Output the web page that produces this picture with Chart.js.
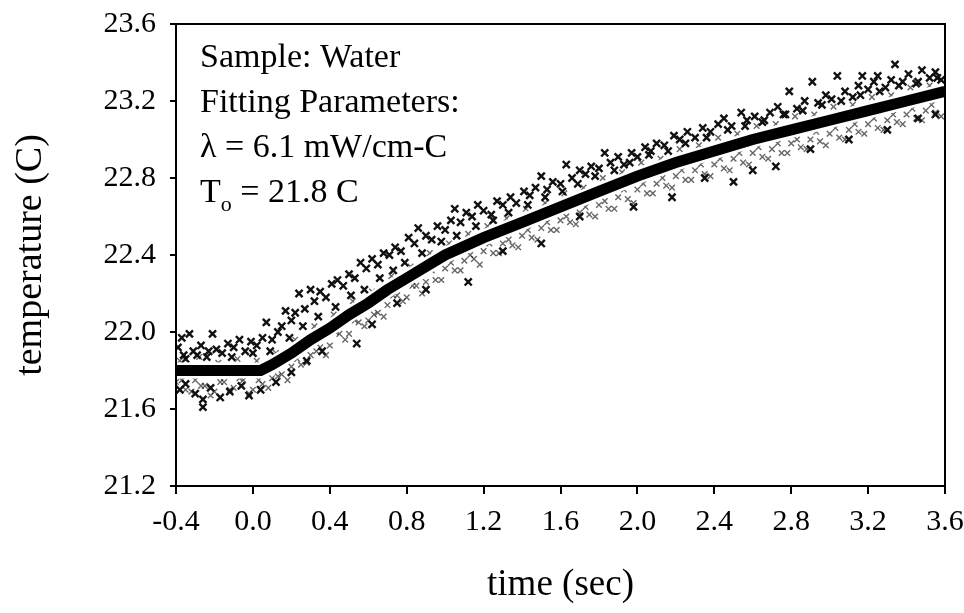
<!DOCTYPE html>
<html lang="en">
<head>
    <meta charset="UTF-8">
    <title>Sample: Water</title>
    <script src="https://cdn.jsdelivr.net/npm/chart.js"></script>
    <style>
        body { margin: 0; background: #fff; }
    </style>
</head>
<body>
    <canvas id="chart" width="964" height="613"></canvas>

    <script>
        // axis ticks
        const timeTicks = [-0.4, 0.0, 0.4, 0.8, 1.2, 1.6, 2.0, 2.4, 2.8, 3.2, 3.6];
        const tempTicks = [21.2, 21.6, 22.0, 22.4, 22.8, 23.2, 23.6];

        // fitted curve
        const fitTime = [-0.4, 0.04, 0.1, 0.2, 0.3, 0.4, 0.5, 0.6, 0.7, 0.8, 0.9, 1.0, 1.2, 1.4, 1.6, 1.8, 2.0, 2.2, 2.4, 2.6, 2.8, 3.0, 3.2, 3.4, 3.6];
        const fitTemp = [21.80, 21.80, 21.83, 21.89, 21.96, 22.02, 22.09, 22.15, 22.22, 22.28, 22.34, 22.40, 22.49, 22.57, 22.65, 22.73, 22.81, 22.88, 22.94, 23.00, 23.05, 23.10, 23.15, 23.20, 23.25];

        // measured points, dark crosses [time, temp]
        const darkPoints = [
            [-0.39, 21.92], [-0.37, 21.97], [-0.35, 21.86], [-0.33, 21.99], [-0.31, 21.90], [-0.29, 21.88],
            [-0.27, 21.93], [-0.24, 21.87], [-0.21, 21.99], [-0.19, 21.91], [-0.16, 21.89], [-0.13, 21.94],
            [-0.10, 21.92], [-0.07, 21.96], [-0.04, 21.90], [-0.01, 21.95], [0.02, 21.93], [0.05, 21.97],
            [0.07, 22.05], [0.10, 21.96], [0.13, 22.00], [0.15, 22.03], [0.17, 22.11], [0.20, 22.06],
            [0.22, 22.10], [0.24, 22.20], [0.27, 22.12], [0.30, 22.22], [0.32, 22.16], [0.35, 22.21],
            [0.38, 22.18], [0.41, 22.25], [0.44, 22.27], [0.47, 22.24], [0.50, 22.30], [0.53, 22.28],
            [0.56, 22.36], [0.59, 22.33], [0.62, 22.38], [0.65, 22.35], [0.68, 22.41], [0.71, 22.40],
            [0.74, 22.44], [0.77, 22.42], [0.81, 22.49], [0.84, 22.46], [0.86, 22.54], [0.90, 22.50],
            [0.93, 22.48], [0.96, 22.55], [1.00, 22.53], [1.03, 22.58], [1.05, 22.64], [1.08, 22.57],
            [1.11, 22.62], [1.14, 22.60], [1.17, 22.66], [1.20, 22.63], [1.24, 22.61], [1.27, 22.68],
            [1.30, 22.66], [1.34, 22.70], [1.37, 22.67], [1.41, 22.73], [1.44, 22.71], [1.47, 22.75],
            [1.50, 22.81], [1.53, 22.74], [1.56, 22.78], [1.60, 22.77], [1.63, 22.87], [1.66, 22.80],
            [1.70, 22.84], [1.73, 22.82], [1.76, 22.86], [1.80, 22.85], [1.83, 22.93], [1.86, 22.88],
            [1.90, 22.91], [1.93, 22.87], [1.97, 22.93], [2.00, 22.91], [2.04, 22.96], [2.07, 22.94],
            [2.10, 22.98], [2.14, 22.97], [2.19, 23.02], [2.22, 23.00], [2.26, 23.04], [2.30, 23.01],
            [2.34, 23.06], [2.38, 23.04], [2.42, 23.08], [2.45, 23.11], [2.49, 23.07], [2.54, 23.14],
            [2.57, 23.10], [2.61, 23.12], [2.65, 23.09], [2.69, 23.14], [2.73, 23.17], [2.76, 23.13],
            [2.79, 23.25], [2.83, 23.16], [2.87, 23.20], [2.91, 23.30], [2.94, 23.19], [2.98, 23.23],
            [3.01, 23.21], [3.04, 23.33], [3.08, 23.25], [3.12, 23.22], [3.15, 23.28], [3.17, 23.33],
            [3.20, 23.26], [3.23, 23.30], [3.25, 23.33], [3.29, 23.27], [3.32, 23.31], [3.34, 23.39],
            [3.38, 23.30], [3.41, 23.34], [3.45, 23.29], [3.48, 23.36], [3.52, 23.32], [3.55, 23.35],
            [3.58, 23.31],
            // below the curve
            [-0.38, 21.70], [-0.35, 21.73], [-0.30, 21.68], [-0.26, 21.65], [-0.26, 21.61], [-0.22, 21.71],
            [-0.17, 21.66], [-0.12, 21.69], [-0.06, 21.72], [-0.02, 21.67], [0.04, 21.70], [0.12, 21.74],
            [0.20, 21.79], [0.28, 21.85], [0.36, 21.90], [0.54, 21.94], [0.62, 22.04], [0.75, 22.15],
            [0.90, 22.22], [1.12, 22.26], [1.30, 22.42], [1.50, 22.46], [1.70, 22.60], [1.98, 22.65],
            [2.18, 22.70], [2.35, 22.80], [2.50, 22.78], [2.60, 22.84], [2.72, 22.86], [2.90, 22.95],
            [3.10, 23.00], [3.30, 23.05], [3.46, 23.11], [3.55, 23.13]
        ];

        // more dark crosses packed just above the curve
        const darkNearPoints = [
            [-0.36, 21.88], [-0.23, 21.90], [-0.11, 21.87], [0.00, 21.89], [0.09, 21.90], [0.19, 21.97],
            [0.26, 22.03], [0.34, 22.08], [0.43, 22.13], [0.51, 22.19], [0.58, 22.22], [0.66, 22.28],
            [0.73, 22.32], [0.79, 22.36], [0.88, 22.41], [0.98, 22.47], [1.06, 22.50], [1.16, 22.55],
            [1.25, 22.58], [1.33, 22.62], [1.43, 22.66], [1.52, 22.70], [1.61, 22.73], [1.69, 22.77],
            [1.78, 22.81], [1.88, 22.84], [1.96, 22.88], [2.06, 22.92], [2.16, 22.94], [2.25, 22.98],
            [2.36, 23.01], [2.47, 23.05], [2.56, 23.07], [2.66, 23.10], [2.77, 23.13], [2.86, 23.15],
            [2.96, 23.18], [3.06, 23.20], [3.16, 23.23], [3.26, 23.25], [3.36, 23.28], [3.46, 23.30],
            [3.56, 23.32]
        ];

        // measured points, light speckle close to the curve [time, temp]
        const lightPoints = [
            [-0.40, 21.74], [-0.35, 21.70], [-0.30, 21.75], [-0.25, 21.72], [-0.20, 21.69], [-0.15, 21.74],
            [-0.10, 21.71], [-0.05, 21.75], [0.00, 21.70], [0.05, 21.73], [0.10, 21.76], [0.15, 21.78],
            [0.20, 21.82], [0.25, 21.83], [0.30, 21.88], [0.35, 21.92], [0.40, 21.93], [0.45, 21.99],
            [0.50, 21.99], [0.55, 22.05], [0.60, 22.06], [0.65, 22.10], [0.70, 22.14], [0.75, 22.19],
            [0.80, 22.18], [0.85, 22.24], [0.90, 22.26], [0.95, 22.27], [1.00, 22.33], [1.05, 22.32],
            [1.10, 22.37], [1.15, 22.38], [1.20, 22.42], [1.25, 22.41], [1.30, 22.46], [1.35, 22.45],
            [1.40, 22.50], [1.45, 22.49], [1.50, 22.54], [1.55, 22.53], [1.60, 22.58], [1.65, 22.57],
            [1.70, 22.62], [1.75, 22.61], [1.80, 22.66], [1.85, 22.64], [1.90, 22.70], [1.95, 22.69],
            [2.00, 22.74], [2.05, 22.72], [2.10, 22.77], [2.15, 22.76], [2.20, 22.81], [2.25, 22.79],
            [2.30, 22.84], [2.35, 22.82], [2.40, 22.87], [2.45, 22.85], [2.50, 22.90], [2.55, 22.88],
            [2.60, 22.93], [2.65, 22.91], [2.70, 22.95], [2.75, 22.93], [2.80, 22.98], [2.85, 22.96],
            [2.90, 23.00], [2.95, 22.99], [3.00, 23.03], [3.05, 23.01], [3.10, 23.05], [3.15, 23.04],
            [3.20, 23.08], [3.25, 23.06], [3.30, 23.10], [3.35, 23.09], [3.40, 23.13], [3.45, 23.11],
            [3.50, 23.15], [3.55, 23.14],
            [-0.38, 21.85], [-0.28, 21.87], [-0.18, 21.84], [-0.08, 21.86], [0.02, 21.85], [0.12, 21.89],
            [0.22, 21.96], [0.32, 22.03], [0.42, 22.09], [0.52, 22.16], [0.62, 22.21], [0.72, 22.29],
            [0.82, 22.34], [0.92, 22.41], [1.02, 22.46], [1.12, 22.51], [1.22, 22.55], [1.32, 22.59],
            [1.42, 22.64], [1.52, 22.67], [1.62, 22.72], [1.72, 22.75], [1.82, 22.80], [1.92, 22.83],
            [2.02, 22.88], [2.12, 22.90], [2.22, 22.95], [2.32, 22.97], [2.42, 23.01], [2.52, 23.03],
            [2.62, 23.07], [2.72, 23.08], [2.82, 23.12], [2.92, 23.13], [3.02, 23.17], [3.12, 23.18],
            [3.22, 23.22], [3.32, 23.23], [3.42, 23.27], [3.52, 23.28]
        ];

        // light speckle further below the curve
        const lightLowPoints = [
            [-0.37, 21.75], [-0.32, 21.69], [-0.27, 21.72], [-0.22, 21.67], [-0.17, 21.74], [-0.12, 21.70],
            [-0.07, 21.76], [-0.02, 21.68], [0.03, 21.75], [0.08, 21.71], [0.13, 21.77], [0.18, 21.75],
            [0.23, 21.86], [0.28, 21.84], [0.33, 21.90], [0.38, 21.88], [0.43, 22.00], [0.48, 21.96],
            [0.53, 22.06], [0.58, 22.03], [0.63, 22.09], [0.68, 22.08], [0.73, 22.19], [0.78, 22.16],
            [0.83, 22.24], [0.88, 22.20], [0.93, 22.32], [0.98, 22.27], [1.03, 22.36], [1.08, 22.32],
            [1.13, 22.40], [1.18, 22.35], [1.23, 22.46], [1.28, 22.41], [1.33, 22.48], [1.38, 22.44],
            [1.43, 22.53], [1.48, 22.48], [1.53, 22.57], [1.58, 22.53], [1.63, 22.60], [1.68, 22.56],
            [1.73, 22.65], [1.78, 22.60], [1.83, 22.68], [1.88, 22.64], [1.93, 22.74], [1.98, 22.67],
            [2.03, 22.77], [2.08, 22.72], [2.13, 22.80], [2.18, 22.75], [2.23, 22.84], [2.28, 22.79],
            [2.33, 22.87], [2.38, 22.81], [2.43, 22.90], [2.48, 22.84], [2.53, 22.93], [2.58, 22.87],
            [2.63, 22.96], [2.68, 22.90], [2.73, 22.98], [2.78, 22.93], [2.83, 23.00], [2.88, 22.95],
            [2.93, 23.04], [2.98, 22.97], [3.03, 23.06], [3.08, 23.00], [3.13, 23.08], [3.18, 23.03],
            [3.23, 23.11], [3.28, 23.05], [3.33, 23.13], [3.38, 23.08], [3.43, 23.16], [3.48, 23.10],
            [3.53, 23.18], [3.58, 23.12]
        ];

        const noteLines = ['Sample: Water', 'Fitting Parameters:', '\u03bb = 6.1 mW/cm-C'];

        const serif = '"Liberation Serif", "Times New Roman", serif';
        const toXY = arr => arr.map(p => ({ x: p[0], y: p[1] }));
        const fitData = fitTime.map((t, i) => ({ x: t, y: fitTemp[i] }));

        // box around the plot + the text block in the upper left
        const framePlugin = {
            id: 'frame',
            afterDraw(chart) {
                const { ctx, chartArea: a } = chart;
                ctx.save();
                ctx.strokeStyle = '#000';
                ctx.lineWidth = 2;
                ctx.strokeRect(a.left, a.top, a.right - a.left, a.bottom - a.top);

                ctx.fillStyle = '#000';
                ctx.font = '34px ' + serif;
                ctx.textBaseline = 'alphabetic';
                const x0 = a.left + 24;
                noteLines.forEach((s, i) => ctx.fillText(s, x0, a.top + 43 + i * 45));
                const by = a.top + 178;
                ctx.fillText('T', x0, by);
                let w = ctx.measureText('T').width;
                ctx.font = '22px ' + serif;
                ctx.fillText('o', x0 + w, by + 9);
                w += ctx.measureText('o').width;
                ctx.font = '34px ' + serif;
                ctx.fillText(' = 21.8 C', x0 + w, by);
                ctx.restore();
            }
        };

        new Chart(document.getElementById('chart'), {
            type: 'scatter',
            data: {
                datasets: [
                    {
                        label: 'fit',
                        data: fitData,
                        showLine: true,
                        borderColor: '#000',
                        borderWidth: 11,
                        pointRadius: 0,
                        order: 0
                    },
                    {
                        label: 'fit halo',
                        data: fitData,
                        showLine: true,
                        borderColor: '#fff',
                        borderWidth: 16,
                        pointRadius: 0,
                        order: 1
                    },
                    {
                        label: 'data',
                        data: toXY(darkPoints.concat(darkNearPoints)),
                        pointStyle: 'crossRot',
                        pointRadius: 5,
                        borderColor: '#111',
                        borderWidth: 2.4,
                        order: 2
                    },
                    {
                        label: 'data (light)',
                        data: toXY(lightPoints.concat(lightLowPoints)),
                        pointStyle: 'crossRot',
                        pointRadius: 4,
                        borderColor: 'rgba(0,0,0,0.6)',
                        borderWidth: 1.4,
                        order: 3
                    }
                ]
            },
            options: {
                responsive: false,
                animation: false,
                layout: { padding: { top: 24, right: 19, left: 0, bottom: 0 } },
                plugins: {
                    legend: { display: false },
                    tooltip: { enabled: false }
                },
                scales: {
                    x: {
                        type: 'linear',
                        min: timeTicks[0],
                        max: timeTicks[timeTicks.length - 1],
                        afterBuildTicks: s => { s.ticks = timeTicks.map(v => ({ value: v })); },
                        afterFit: s => { s.height = 127; s.paddingLeft = 0; s.paddingRight = 0; },
                        grid: { drawOnChartArea: false, drawTicks: true, tickLength: 8, color: '#000', lineWidth: 2 },
                        border: { display: false },
                        ticks: {
                            color: '#000',
                            padding: 10,
                            maxRotation: 0,
                            font: { family: serif, size: 30 },
                            callback: v => v.toFixed(1)
                        },
                        title: {
                            display: true,
                            text: 'time (sec)',
                            color: '#000',
                            font: { family: serif, size: 37 },
                            padding: { top: 0, bottom: 6 }
                        }
                    },
                    y: {
                        type: 'linear',
                        min: tempTicks[0],
                        max: tempTicks[tempTicks.length - 1],
                        afterBuildTicks: s => { s.ticks = tempTicks.map(v => ({ value: v })); },
                        afterFit: s => { s.width = 176; s.paddingTop = 0; s.paddingBottom = 0; },
                        grid: { drawOnChartArea: false, drawTicks: true, tickLength: 6, color: '#000', lineWidth: 2 },
                        border: { display: false },
                        ticks: {
                            color: '#000',
                            padding: 14,
                            font: { family: serif, size: 30 },
                            callback: v => v.toFixed(1)
                        },
                        title: {
                            display: true,
                            text: 'temperature (C)',
                            color: '#000',
                            font: { family: serif, size: 38 },
                            padding: { top: 8, bottom: 0 }
                        }
                    }
                }
            },
            plugins: [framePlugin]
        });
    </script>
</body>
</html>
